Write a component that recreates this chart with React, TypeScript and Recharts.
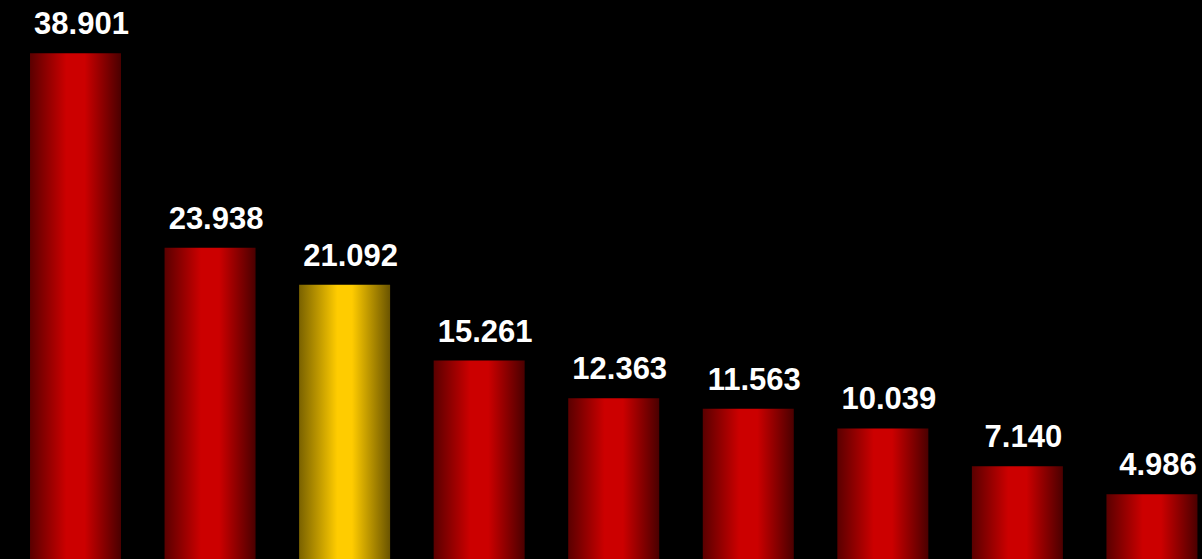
import React from "react";
import { BarChart, Bar, XAxis, YAxis, Cell, LabelList } from "recharts";

const categories = ["A", "B", "C", "D", "E", "F", "G", "H", "I"];
const values = [38.901, 23.938, 21.092, 15.261, 12.363, 11.563, 10.039, 7.14, 4.986];
const labels = ["38.901", "23.938", "21.092", "15.261", "12.363", "11.563", "10.039", "7.140", "4.986"];
const highlightIndex = 2;

const data = categories.map((c, i) => ({ name: c, value: values[i], label: labels[i] }));

const renderLabel = (props: any) => {
  const { x, y, width, value } = props;
  return (
    <text
      x={Number(x) + Number(width) / 2 + 6}
      y={Number(y) - 19}
      textAnchor="middle"
      fill="#ffffff"
      style={{ fontFamily: "'Liberation Sans', Arial, sans-serif", fontWeight: "bold", fontSize: 31 }}
    >
      {value}
    </text>
  );
};

export default function App() {
  return (
    <div
      style={{
        position: "fixed",
        left: 0,
        top: 0,
        width: 1202,
        height: 559,
        background: "#000",
        overflow: "hidden",
      }}
    >
      <div style={{ position: "absolute", left: 8, top: 0, width: 1194, height: 559, overflow: "hidden" }}>
        <BarChart
          width={1211}
          height={559}
          data={data}
          margin={{ top: 13, right: 0, bottom: 0, left: 0 }}
        >
          <defs>
            <linearGradient id="redGrad" x1="0" y1="0" x2="1" y2="0">
              <stop offset="0%" stopColor="#5a0000" />
              <stop offset="40%" stopColor="#cc0000" />
              <stop offset="60%" stopColor="#cc0000" />
              <stop offset="100%" stopColor="#4a0000" />
            </linearGradient>
            <linearGradient id="goldGrad" x1="0" y1="0" x2="1" y2="0">
              <stop offset="0%" stopColor="#7a6200" />
              <stop offset="42%" stopColor="#ffcc00" />
              <stop offset="58%" stopColor="#ffcc00" />
              <stop offset="100%" stopColor="#6a5400" />
            </linearGradient>
          </defs>
          <XAxis dataKey="name" hide />
          <YAxis domain={[0, 42]} hide />
          <Bar dataKey="value" barSize={91} isAnimationActive={false}>
            {data.map((d, i) => (
              <Cell key={d.name} fill={i === highlightIndex ? "url(#goldGrad)" : "url(#redGrad)"} />
            ))}
            <LabelList dataKey="label" content={renderLabel} />
          </Bar>
        </BarChart>
      </div>
    </div>
  );
}
